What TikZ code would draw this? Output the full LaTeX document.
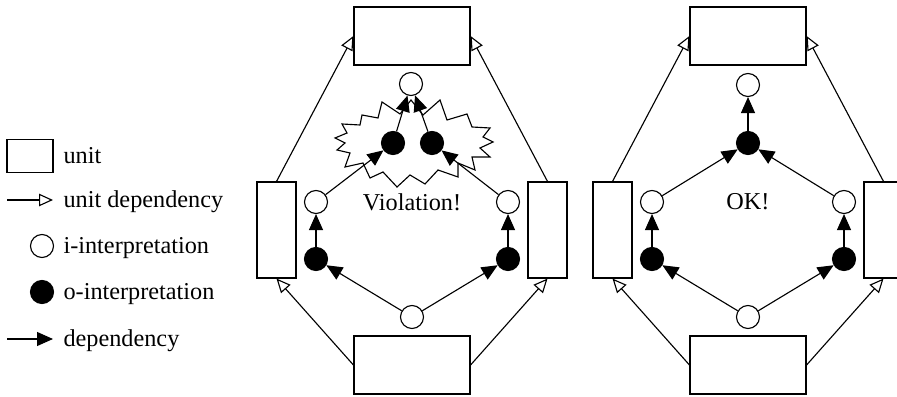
\documentclass[tikz,border=0pt]{standalone}
\usepackage{fontspec}
\setmainfont{Liberation Serif}
\usetikzlibrary{arrows.meta}

\begin{document}
\begin{tikzpicture}[x=0.4pt,y=-0.4pt,line width=0.45pt,font=\fontsize{9.7}{11}\selectfont]

        \useasboundingbox (0,0) rectangle (897,397);
        \clip (0,0) rectangle (897,397);

        \draw[fill=white] (411,100) -- (423,115) -- (440,100) -- (447,120) -- (467,114) -- (472,127)
          -- (490,128) -- (483,137) -- (493,142) -- (480,148) -- (490,157) -- (472,157) -- (475,170)
          -- (458,163) -- (458,177) -- (438,170) -- (425,184) -- (410,175) -- (397,187) -- (383,172)
          -- (370,178) -- (363,163) -- (345,167) -- (350,153) -- (337,150) -- (345,143) -- (335,138)
          -- (347,133) -- (342,124) -- (360,125) -- (362,115) -- (378,118) -- (382,102) -- (400,114) -- cycle;

        \begin{scope}[every node/.style={draw,rectangle,inner sep=0pt}]
          \node[minimum width=18.4pt,minimum height=13.2pt] (unit) at (30,156) {};
          \node[minimum width=46.4pt,minimum height=23.2pt] (ut)  at (412,36)    {};
          \node[minimum width=15.6pt,minimum height=38.4pt] (ul)  at (276.5,230) {};
          \node[minimum width=15.6pt,minimum height=38.4pt] (ur)  at (547.5,230) {};
          \node[minimum width=46.4pt,minimum height=23.2pt] (ub)  at (412,365)   {};
          \node[minimum width=46.4pt,minimum height=23.2pt] (ut2) at (748,36)    {};
          \node[minimum width=15.6pt,minimum height=38.4pt] (ul2) at (612.5,230) {};
          \node[minimum width=15.6pt,minimum height=38.4pt] (ur2) at (883.5,230) {};
          \node[minimum width=46.4pt,minimum height=23.2pt] (ub2) at (748,365)   {};
        \end{scope}

        \begin{scope}[every node/.style={circle,draw,fill=white,minimum size=9.2pt,inner sep=0pt}]
          \node (iint) at (42,246)  {};
          \node (it)   at (411,84)  {};
          \node (il)   at (316,202) {};
          \node (ir)   at (508,202) {};
          \node (ib)   at (412,317) {};
          \node (it2)  at (748,85)  {};
          \node (il2)  at (652,202) {};
          \node (ir2)  at (844,202) {};
          \node (ib2)  at (748,317) {};
        \end{scope}

        \begin{scope}[every node/.style={circle,draw,fill=black,minimum size=9.2pt,inner sep=0pt}]
          \node (oint) at (42,292)  {};
          \node (otl)  at (393,143) {};
          \node (otr)  at (432,143) {};
          \node (ol)   at (316,259) {};
          \node (or)   at (508,259) {};
          \node (ot2)  at (748,143) {};
          \node (ol2)  at (652,259) {};
          \node (or2)  at (844,259) {};
        \end{scope}

        \coordinate (ud1) at (7,200);
        \coordinate (ud2) at (53,200);
        \coordinate (dp1) at (7,339);
        \coordinate (dp2) at (53,339);

        \begin{scope}[every node/.style={anchor=west,inner sep=0pt,text height=1.5ex,text depth=.25ex}]
          \node (tunit) at (63,156) {unit};
          \node (tud)   at (63,200) {unit dependency};
          \node (tiint) at (63,246) {i-interpretation};
          \node (toint) at (63,292) {o-interpretation};
          \node (tdp)   at (63,339) {dependency};
        \end{scope}

        \node (viol) at (412,202) {Violation!};
        \node (ok)   at (748,202) {OK!};

        \begin{scope}[every edge/.style={draw,-{Triangle[open,length=5.6pt,width=5pt]}}]
          \path (ud1)       edge (ud2);
          \path (ul.north)  edge (ut.west);
          \path (ur.north)  edge (ut.east);
          \path (ub.west)   edge (ul.south);
          \path (ub.east)   edge (ur.south);
          \path (ul2.north) edge (ut2.west);
          \path (ur2.north) edge (ut2.east);
          \path (ub2.west)  edge (ul2.south);
          \path (ub2.east)  edge (ur2.south);
        \end{scope}

        \begin{scope}[every edge/.style={draw,-{Triangle[length=6.4pt,width=5.6pt]}}]
          \path (dp1) edge (dp2);
          \path (ib)  edge (ol);
          \path (ib)  edge (or);
          \path (ol)  edge (il);
          \path (or)  edge (ir);
          \path (il)  edge (otl);
          \path (ir)  edge (otr);
          \path (otl) edge (it);
          \path (otr) edge (it);
          \path (ib2) edge (ol2);
          \path (ib2) edge (or2);
          \path (ol2) edge (il2);
          \path (or2) edge (ir2);
          \path (il2) edge (ot2);
          \path (ir2) edge (ot2);
          \path (ot2) edge (it2);
        \end{scope}

      \end{tikzpicture}
\end{document}
